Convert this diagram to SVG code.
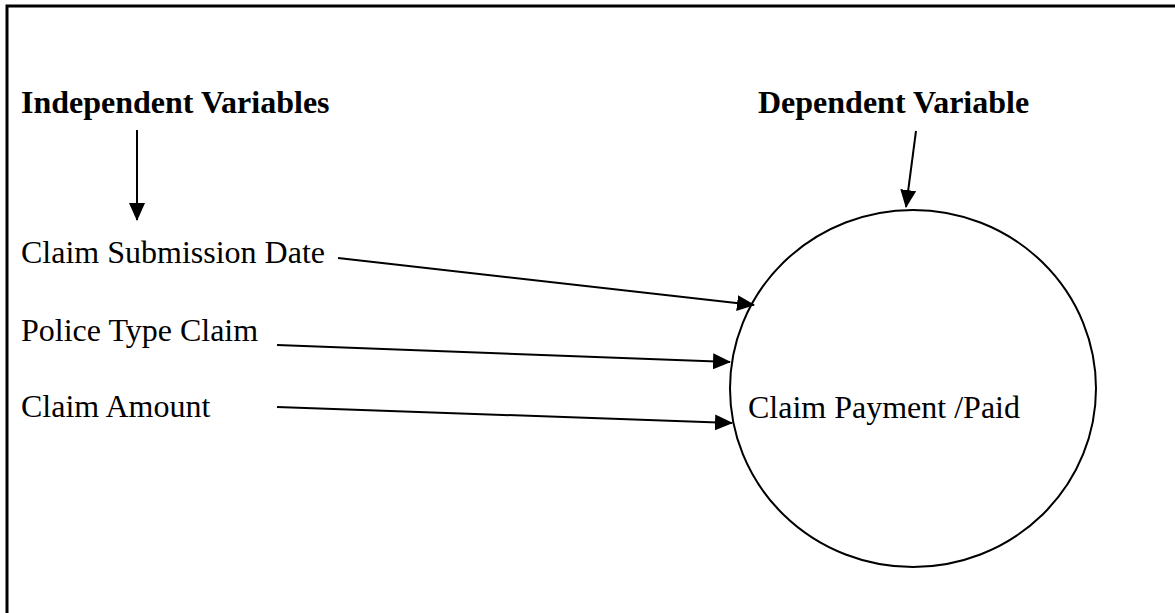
<svg xmlns="http://www.w3.org/2000/svg" width="1175" height="613" viewBox="0 0 1175 613">
<defs>
<style>
.t{font-family:"Liberation Serif","Times New Roman",serif;font-size:32px;fill:#000}
.b{font-weight:bold}
.c{stroke:#000;stroke-width:2;fill:none}
</style>
<marker id="ah" markerUnits="userSpaceOnUse" markerWidth="18" markerHeight="16" refX="17" refY="8" orient="auto">
<path d="M0,0 L18,8 L0,16 Z" fill="#000"/>
</marker>
</defs>
<rect width="1175" height="613" fill="#fff"/>
<path d="M7,613 L7,6 L1175,6" fill="none" stroke="#000" stroke-width="3"/>
<g id="independent-header"><text class="t b" x="21" y="113">Independent Variables</text></g>
<g id="dependent-header"><text class="t b" x="758" y="113">Dependent Variable</text></g>
<g id="claim-submission-date"><text class="t" x="21" y="263">Claim Submission Date</text></g>
<g id="police-type-claim"><text class="t" x="21" y="341">Police Type Claim</text></g>
<g id="claim-amount"><text class="t" x="21" y="417">Claim Amount</text></g>
<g id="claim-payment">
<ellipse cx="913" cy="388.5" rx="183" ry="178.5" class="c"/>
<text class="t" x="748" y="418">Claim Payment /Paid</text>
</g>
<g id="connectors" class="c">
<line x1="137" y1="130" x2="137" y2="220" marker-end="url(#ah)"/>
<line x1="916" y1="131" x2="906" y2="207" marker-end="url(#ah)"/>
<line x1="338" y1="258" x2="754" y2="305" marker-end="url(#ah)"/>
<line x1="277" y1="345" x2="730" y2="362" marker-end="url(#ah)"/>
<line x1="277" y1="407" x2="732" y2="423" marker-end="url(#ah)"/>
</g>
</svg>
